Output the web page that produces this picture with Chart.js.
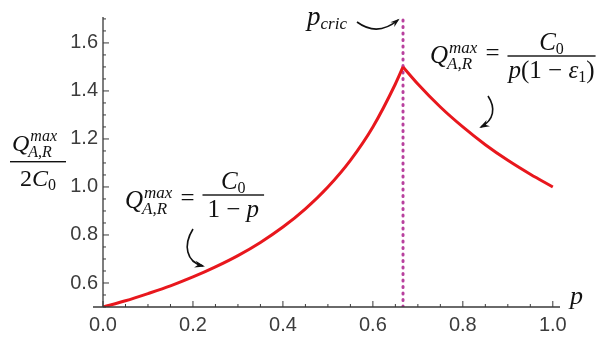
<!DOCTYPE html>
<html>
<head>
<meta charset="utf-8">
<script src="https://cdn.jsdelivr.net/npm/chart.js@4"></script>
<style>
  html, body { margin: 0; padding: 0; background: #fff; }
  #wrap { width: 609px; height: 343px; position: relative; }
</style>
</head>
<body>
<div id="wrap"><canvas id="chart"></canvas></div>
<script>
// branch below the critical point: Q/(2C0) vs p
const pLow = [0, 0.05, 0.10, 0.15, 0.20, 0.25, 0.30, 0.35, 0.40, 0.45, 0.50, 0.55, 0.60, 0.65, 0.667];
const qLow = [0.50, 0.526, 0.556, 0.588, 0.625, 0.667, 0.714, 0.769, 0.833, 0.909, 1.00, 1.111, 1.25, 1.429, 1.50];

// branch above the critical point
const pHigh = [0.667, 0.70, 0.75, 0.80, 0.85, 0.90, 0.95, 1.00];
const qHigh = [1.50, 1.429, 1.333, 1.25, 1.176, 1.111, 1.053, 1.00];

// critical probability
const pCric = 0.667;

const xLabels = [0, 0.2, 0.4, 0.6, 0.8, 1.0];
const yLabels = [0.6, 0.8, 1.0, 1.2, 1.4, 1.6];

const X_MIN = 0, X_MAX = 1.016, Y_MIN = 0.5, Y_MAX = 1.708;
const RED = "#e8171d";
const AXIS = "#3a3a3a";
const SERIF = "'Liberation Serif', 'DejaVu Serif', serif";

const near = (v, list) => list.some(l => Math.abs(l - v) < 1e-6);

// inward axis lines and ticks, Mathematica style
const axesPlugin = {
  id: "axes",
  afterDraw(chart) {
    const { ctx, chartArea: a, scales: { x, y } } = chart;
    const y0 = y.getPixelForValue(Y_MIN);
    const x0 = x.getPixelForValue(X_MIN);
    ctx.save();
    ctx.strokeStyle = AXIS;
    ctx.lineWidth = 1.3;
    ctx.beginPath();
    ctx.moveTo(x0 - 10, y0); ctx.lineTo(a.right, y0);
    ctx.moveTo(x0, y0); ctx.lineTo(x0, a.top);
    ctx.stroke();
    ctx.lineWidth = 1;
    ctx.beginPath();
    for (let i = 0; i <= 20; i++) {
      const v = i * 0.05;
      const px = x.getPixelForValue(v);
      const len = near(Math.round(v * 100) / 100, xLabels) ? 6 : 3;
      ctx.moveTo(px, y0); ctx.lineTo(px, y0 - len);
    }
    for (let i = 0; i <= 24; i++) {
      const v = Y_MIN + i * 0.05;
      if (v > Y_MAX) break;
      const py = y.getPixelForValue(v);
      const len = near(Math.round(v * 100) / 100, yLabels) ? 6 : 3;
      ctx.moveTo(x0, py); ctx.lineTo(x0 + len, py);
    }
    ctx.stroke();

    // axis variable at the end of the horizontal axis
    ctx.fillStyle = "#111";
    ctx.font = "italic 26px " + SERIF;
    ctx.fillText("p", a.right + 10, y0 - 3);
    ctx.restore();
  }
};

// draws a run of text pieces: {t, it, s, dy}
function drawRun(ctx, x, yb, parts) {
  let cx = x;
  for (const p of parts) {
    ctx.font = (p.it ? "italic " : "") + p.s + "px " + SERIF;
    ctx.fillText(p.t, cx, yb + (p.dy || 0));
    cx += ctx.measureText(p.t).width + (p.gap || 0);
  }
  return cx;
}
function runWidth(ctx, parts) {
  let w = 0;
  for (const p of parts) {
    ctx.font = (p.it ? "italic " : "") + p.s + "px " + SERIF;
    w += ctx.measureText(p.t).width + (p.gap || 0);
  }
  return w;
}

// Q with stacked super/subscript, returns end x
function drawQ(ctx, x, yb, s) {
  ctx.font = "italic " + s + "px " + SERIF;
  ctx.fillText("Q", x, yb);
  const qx = x + ctx.measureText("Q").width + 1;
  const ss = Math.round(s * 0.66);
  ctx.font = "italic " + ss + "px " + SERIF;
  ctx.fillText("max", qx, yb - s * 0.42);
  const w1 = ctx.measureText("max").width;
  ctx.fillText("A,R", qx - 2, yb + s * 0.24);
  const w2 = ctx.measureText("A,R").width;
  return qx + Math.max(w1, w2 - 2);
}

function drawFrac(ctx, x, lineY, num, den, extra) {
  const wn = runWidth(ctx, num), wd = runWidth(ctx, den);
  const w = Math.max(wn, wd) + (extra || 4);
  drawRun(ctx, x + (w - wn) / 2, lineY - 6, num);
  drawRun(ctx, x + (w - wd) / 2, lineY + 22, den);
  ctx.fillRect(x, lineY - 0.7, w, 1.4);
  return x + w;
}

function arrow(ctx, pts, head) {
  ctx.beginPath();
  ctx.moveTo(pts[0], pts[1]);
  ctx.bezierCurveTo(pts[2], pts[3], pts[4], pts[5], pts[6], pts[7]);
  ctx.lineWidth = 1.6;
  ctx.stroke();
  const ang = Math.atan2(pts[7] - pts[5], pts[6] - pts[4]);
  const L = head || 9;
  ctx.beginPath();
  ctx.moveTo(pts[6] + Math.cos(ang) * 2, pts[7] + Math.sin(ang) * 2);
  ctx.lineTo(pts[6] - Math.cos(ang - 0.4) * L, pts[7] - Math.sin(ang - 0.4) * L);
  ctx.lineTo(pts[6] - Math.cos(ang) * L * 0.55, pts[7] - Math.sin(ang) * L * 0.55);
  ctx.lineTo(pts[6] - Math.cos(ang + 0.4) * L, pts[7] - Math.sin(ang + 0.4) * L);
  ctx.closePath();
  ctx.fill();
}

const notesPlugin = {
  id: "notes",
  afterDraw(chart) {
    const ctx = chart.ctx;
    ctx.save();
    ctx.fillStyle = "#111";
    ctx.strokeStyle = "#111";
    ctx.textBaseline = "alphabetic";

    // y-axis label
    const fx = 10;
    ctx.fillRect(fx, 161, 56, 1.4);
    drawQ(ctx, fx + 2, 151, 24);
    drawRun(ctx, fx + 10, 186, [{ t: "2", s: 24 }, { t: "C", it: true, s: 24 }, { t: "0", s: 16, dy: 4 }]);

    // lower branch formula
    let ex = drawQ(ctx, 125, 208, 25);
    ex = drawRun(ctx, ex + 8, 206, [{ t: "=", s: 25 }]);
    drawFrac(ctx, ex + 8, 195,
      [{ t: "C", it: true, s: 25 }, { t: "0", s: 16, dy: 4 }],
      [{ t: "1 − ", s: 25 }, { t: "p", it: true, s: 25 }], 10);
    arrow(ctx, [193, 229, 183, 245, 186, 262, 203, 266]);

    // upper branch formula
    ex = drawQ(ctx, 430, 63, 25);
    ex = drawRun(ctx, ex + 8, 61, [{ t: "=", s: 25 }]);
    drawFrac(ctx, ex + 8, 56,
      [{ t: "C", it: true, s: 25 }, { t: "0", s: 16, dy: 4 }],
      [{ t: "p", it: true, s: 25 }, { t: "(1 − ", s: 25 }, { t: "ε", it: true, s: 25 }, { t: "1", s: 16, dy: 4 }, { t: ")", s: 25 }], 2);
    arrow(ctx, [488, 96, 496, 108, 494, 120, 481, 127]);

    // critical point label
    drawRun(ctx, 307, 25, [{ t: "p", it: true, s: 27 }, { t: "cric", it: true, s: 17, dy: 4 }]);
    arrow(ctx, [357, 22, 372, 33, 386, 30, 398, 20], 8);
    ctx.restore();
  }
};

const tickFont = { family: "'Liberation Sans', Arial, sans-serif", size: 20 };

new Chart(document.querySelector("#chart").getContext("2d"), {
  type: "line",
  data: {
    datasets: [
      {
        data: pLow.map((p, i) => ({ x: p, y: qLow[i] })),
        borderColor: RED, borderWidth: 3, pointRadius: 0,
        cubicInterpolationMode: "monotone"
      },
      {
        data: pHigh.map((p, i) => ({ x: p, y: qHigh[i] })),
        borderColor: RED, borderWidth: 3, pointRadius: 0,
        cubicInterpolationMode: "monotone"
      },
      {
        data: [{ x: pCric, y: Y_MIN }, { x: pCric, y: Y_MAX }],
        borderColor: "#b8409e", borderWidth: 3, pointRadius: 0,
        borderDash: [1, 5.5], borderCapStyle: "round"
      }
    ]
  },
  options: {
    responsive: true,
    maintainAspectRatio: false,
    animation: false,
    layout: { padding: { left: 0, top: 15, right: 49, bottom: 0 } },
    plugins: {
      legend: { display: false },
      tooltip: { enabled: false }
    },
    scales: {
      x: {
        type: "linear", min: X_MIN, max: X_MAX,
        afterFit: s => { s.height = 36; },
        afterBuildTicks: s => { s.ticks = xLabels.map(v => ({ value: v })); },
        grid: { display: false, drawTicks: false },
        border: { display: false },
        ticks: {
          padding: 6, color: "#3c3c3c", font: tickFont, maxRotation: 0, autoSkip: false,
          callback: v => v.toFixed(1)
        }
      },
      y: {
        type: "linear", min: Y_MIN, max: Y_MAX,
        afterFit: s => { s.width = 103; },
        afterBuildTicks: s => { s.ticks = yLabels.map(v => ({ value: v })); },
        grid: { display: false, drawTicks: false },
        border: { display: false },
        ticks: {
          padding: 5, color: "#3c3c3c", font: tickFont, autoSkip: false,
          callback: v => v.toFixed(1)
        }
      }
    }
  },
  plugins: [axesPlugin, notesPlugin]
});
</script>
</body>
</html>
